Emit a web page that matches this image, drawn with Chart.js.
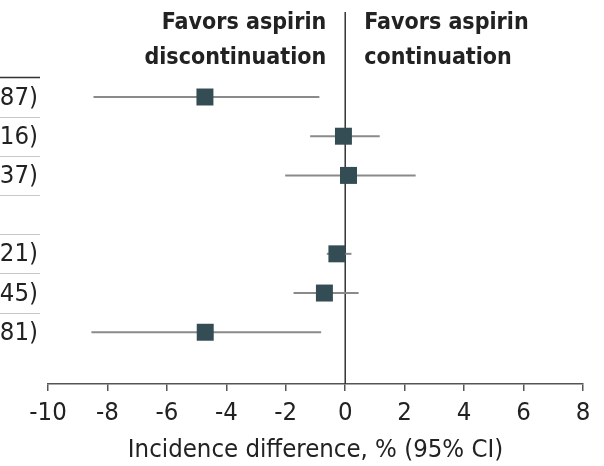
<!DOCTYPE html>
<html>
<head>
<meta charset="utf-8">
<script src="https://cdn.jsdelivr.net/npm/chart.js@4.4.1/dist/chart.umd.min.js"></script>
<style>
  html, body { margin: 0; padding: 0; background: #fff; }
  #wrap { width: 604px; height: 466px; }
</style>
</head>
<body>
<div id="wrap"><canvas id="c" width="604" height="466"></canvas></div>
<script>
// Row positions (1 = top row); row 4 is a subgroup heading with no estimate
const rows = [1, 2, 3, 4, 5, 6, 7];
// Incidence difference, % and its 95% CI
const estimate = [-4.72, -0.06, 0.11, null, -0.28, -0.70, -4.71];
const ciLower  = [-8.47, -1.18, -2.02, null, -0.62, -1.74, -8.54];
const ciUpper  = [-0.87,  1.16,  2.37, null,  0.21,  0.45, -0.81];
// Axis ticks
const xTicks = [-10, -8, -6, -4, -2, 0, 2, 4, 6, 8];
const leftHeader = ['Favors aspirin', 'discontinuation'];
const rightHeader = ['Favors aspirin', 'continuation'];
const axisTitle = 'Incidence difference, % (95% CI)';

const FONT = "'DejaVu Sans Condensed', 'Liberation Sans Narrow', 'DejaVu Sans', sans-serif";
const MARK = '#344c53';
const CI_COLOR = '#8a8a8a';
const INK = '#222222';
const TEXT_SIZE = 25.5;
const HEAD_SIZE = 23;

const fmt = v => (v < 0 ? '\u2212' : '') + Math.abs(v).toFixed(2);

// one two-point line per row for the confidence interval
const ciSets = rows.map((r, i) => ({
  type: 'line',
  data: estimate[i] === null ? [] : [{ x: ciLower[i], y: r }, { x: ciUpper[i], y: r }],
  borderColor: CI_COLOR,
  borderWidth: 2,
  pointRadius: 0,
  showLine: true,
  order: 2
}));

const pointSet = {
  type: 'scatter',
  data: rows.map((r, i) => estimate[i] === null ? null : { x: estimate[i], y: r }).filter(p => p),
  pointStyle: 'rect',
  pointRadius: 12,
  pointHoverRadius: 12,
  backgroundColor: MARK,
  borderColor: MARK,
  borderWidth: 0,
  order: 1
};

const forestDecor = {
  id: 'forestDecor',
  beforeDatasetsDraw(chart) {
    const { ctx, chartArea, scales } = chart;
    const x0 = scales.x.getPixelForValue(0);
    ctx.save();
    ctx.strokeStyle = '#333';
    ctx.lineWidth = 1.5;
    ctx.beginPath();
    ctx.moveTo(x0, chartArea.top);
    ctx.lineTo(x0, chartArea.bottom);
    ctx.stroke();
    ctx.restore();
  },
  afterDraw(chart) {
    const { ctx, scales } = chart;
    const x0 = scales.x.getPixelForValue(0);
    const y = scales.y;
    ctx.save();
    // table rules at the left
    const tableRight = 40;
    ctx.lineWidth = 1.5;
    ctx.strokeStyle = '#333';
    ctx.beginPath();
    const yTop = Math.round(y.getPixelForValue(rows[0] - 0.5)) + 0.5;
    ctx.moveTo(0, yTop); ctx.lineTo(tableRight, yTop);
    ctx.stroke();
    ctx.lineWidth = 1;
    ctx.strokeStyle = '#c8c8c8';
    for (let i = 0; i < rows.length - 1; i++) {
      const yy = Math.round(y.getPixelForValue(rows[i] + 0.5)) + 0.5;
      ctx.beginPath();
      ctx.moveTo(0, yy); ctx.lineTo(tableRight, yy);
      ctx.stroke();
    }
    // estimate text column (right aligned)
    ctx.fillStyle = INK;
    ctx.font = `${TEXT_SIZE}px ${FONT}`;
    ctx.textAlign = 'right';
    ctx.textBaseline = 'middle';
    rows.forEach((r, i) => {
      if (estimate[i] === null) return;
      const txt = `${fmt(estimate[i])} (${fmt(ciLower[i])} to ${fmt(ciUpper[i])})`;
      ctx.fillText(txt, 38, y.getPixelForValue(r) + 1);
    });
    // direction headers
    ctx.font = `bold ${HEAD_SIZE}px ${FONT}`;
    ctx.textBaseline = 'middle';
    ctx.textAlign = 'right';
    leftHeader.forEach((t, k) => ctx.fillText(t, x0 - 19, 23 + k * 35));
    ctx.textAlign = 'left';
    rightHeader.forEach((t, k) => ctx.fillText(t, x0 + 19, 23 + k * 35));
    ctx.restore();
  }
};

new Chart(document.getElementById('c'), {
  data: { datasets: [...ciSets, pointSet] },
  options: {
    responsive: false,
    animation: false,
    events: [],
    layout: { padding: { top: 12, left: 48, right: 21, bottom: 0 } },
    plugins: { legend: { display: false }, tooltip: { enabled: false } },
    scales: {
      x: {
        type: 'linear',
        position: 'bottom',
        min: xTicks[0],
        max: xTicks[xTicks.length - 1],
        afterBuildTicks(scale) { scale.ticks = xTicks.map(v => ({ value: v })); },
        afterFit(scale) { scale.height = 82; },
        ticks: {
          color: INK,
          font: { family: FONT, size: TEXT_SIZE },
          padding: 7,
          callback: v => String(v)
        },
        grid: { drawOnChartArea: false, drawTicks: true, tickLength: 7, color: '#555', lineWidth: 1.5 },
        border: { display: true, color: '#555', width: 1.5 },
        title: {
          display: true,
          text: axisTitle,
          color: INK,
          font: { family: FONT, size: TEXT_SIZE },
          padding: { top: 4, bottom: 0 }
        }
      },
      y: {
        type: 'linear',
        display: false,
        reverse: true,
        min: -1.168,
        max: 8.32
      }
    }
  },
  plugins: [forestDecor]
});
</script>
</body>
</html>
